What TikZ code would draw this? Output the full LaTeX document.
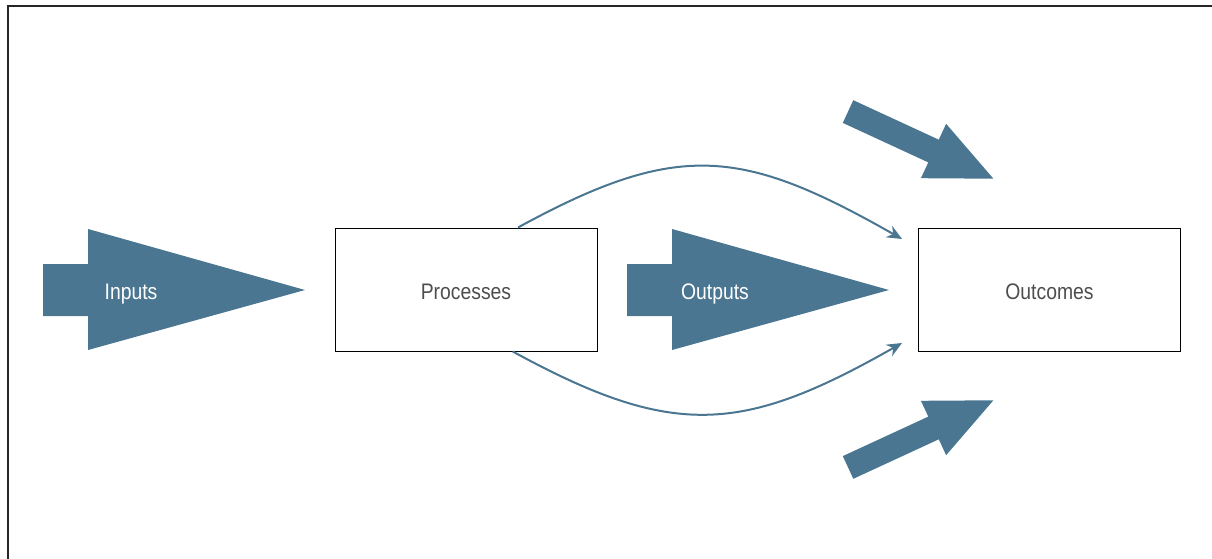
\documentclass[tikz,border=0pt]{standalone}
\usepackage{fontspec}
\setmainfont{Liberation Sans}[FakeStretch=0.86]
\usetikzlibrary{arrows.meta}
\definecolor{flowblue}{HTML}{4A7691}
\definecolor{labelgray}{HTML}{4D4D4D}

\begin{document}
\begin{tikzpicture}[x=1pt, y=-1pt,
    stage/.style={draw, line width=1pt, minimum width=262pt, minimum height=123pt},
    stagetext/.style={text=labelgray, font=\fontsize{22.5}{26}\selectfont,
        text height=16pt, text depth=0pt, inner sep=0pt},
    blockarrow/.style={fill=flowblue},
    arrowlabel/.style={text=white, font=\fontsize{22.5}{26}\selectfont,
        text height=16pt, text depth=0pt, inner sep=0pt},
    link/.style={draw=flowblue, line width=2pt, -{Stealth[length=15pt,width=13pt]}}]
    \useasboundingbox (0,0) rectangle (1212,559);
    % Frame
    \draw[line width=2pt, black!85] (7.5,560) -- (7.5,6.5) -- (1213,6.5);

    % Boxes
    \node[stage] (proc) at (466,289.5) {};
    \node[stagetext] (procText) at (466,291) {Processes};
    \node[stage] (outc) at (1049.5,289.5) {};
    \node[stagetext] (outcText) at (1049.5,291) {Outcomes};

    % Big arrows
    \fill[blockarrow] (43,264) -- (88,264) -- (88,229) -- (305,290) -- (88,350) -- (88,316) -- (43,316) -- cycle;
    \node[arrowlabel] (inp) at (131,291) {Inputs};
    \fill[blockarrow] (627,264) -- (672,264) -- (672,229) -- (889,290) -- (672,350) -- (672,316) -- (627,316) -- cycle;
    \node[arrowlabel] (outp) at (715,291) {Outputs};

    % Side arrows
    \fill[blockarrow] (853.3,100.2) -- (938.8,139.7) -- (946.1,123.8) -- (993.4,178.7)
        -- (920.9,178.2) -- (928.3,162.4) -- (842.8,122.9) -- cycle;
    \fill[blockarrow] (853.3,478.8) -- (938.8,439.3) -- (946.1,455.2) -- (993.4,400.3)
        -- (920.9,400.8) -- (928.3,416.6) -- (842.8,456.1) -- cycle;

    % Curved links
    \coordinate (upEnd) at (902,239);
    \coordinate (lowEnd) at (902,343);
    \draw[link] (proc.50) .. controls (678,140) and (742,148) .. (upEnd);
    \draw[link] (proc.-53) .. controls (673,439) and (742,434) .. (lowEnd);
\end{tikzpicture}
\end{document}
